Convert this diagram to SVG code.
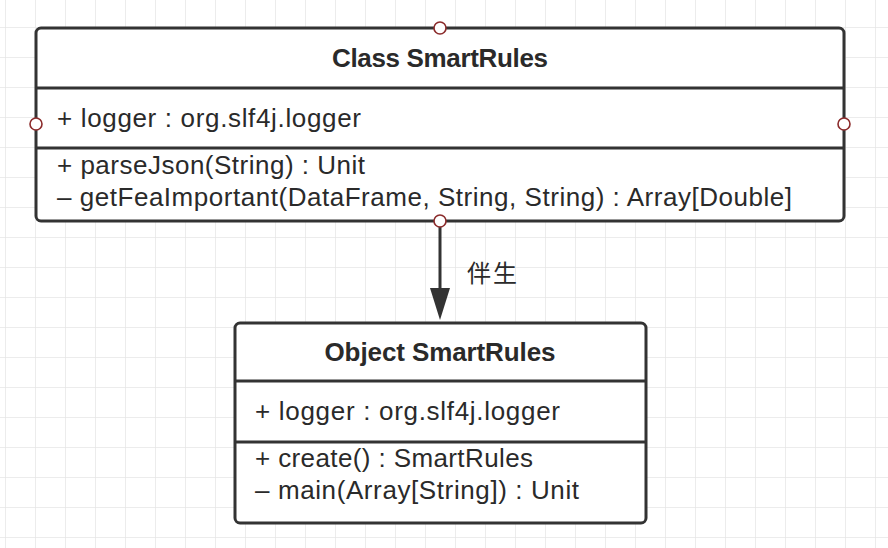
<svg xmlns="http://www.w3.org/2000/svg" width="888" height="548" viewBox="0 0 888 548">
<defs>
<pattern id="grid" x="5" y="27" width="30" height="30" patternUnits="userSpaceOnUse">
<path d="M0 0H30M0 0V30" fill="none" stroke="#e6e6e6" stroke-width="1.5"/>
</pattern>
</defs>
<style>
.box{fill:#fff;stroke:#333;stroke-width:3}
.div{stroke:#333;stroke-width:3}
.port{fill:#fff;stroke:#8b2b2b;stroke-width:1.6}
.t{font-family:"Liberation Sans",Arial,sans-serif;font-size:26px;fill:#2a2a2a}
.h{font-weight:bold;text-anchor:middle}
.cjk{font-family:"Noto Sans CJK SC",sans-serif;font-size:24px;fill:#2a2a2a}
</style>
<rect width="888" height="548" fill="#fff"/>
<rect width="888" height="548" fill="url(#grid)"/>
<g id="connectors">
<line x1="440" y1="222" x2="440" y2="290" stroke="#333" stroke-width="3"/>
<path d="M430 288L450 288L440 320Z" fill="#333"/>
<text class="cjk" x="467" y="282" textLength="50">伴生</text>
</g>
<g id="class-smartrules">
<rect class="box" x="36" y="28" width="808" height="193" rx="5"/>
<line class="div" x1="36" y1="88" x2="844" y2="88"/>
<line class="div" x1="36" y1="148" x2="844" y2="148"/>
<text class="t h" x="440" y="67" textLength="216">Class SmartRules</text>
<text class="t" x="57" y="127" textLength="304">+ logger : org.slf4j.logger</text>
<text class="t" x="57" y="174" textLength="308">+ parseJson(String) : Unit</text>
<text class="t" x="57" y="206" textLength="735">– getFeaImportant(DataFrame, String, String) : Array[Double]</text>
<circle class="port" cx="440" cy="28" r="6"/>
<circle class="port" cx="36" cy="124" r="6"/>
<circle class="port" cx="844" cy="124" r="6"/>
<circle class="port" cx="440" cy="221" r="6"/>
</g>
<g id="object-smartrules">
<rect class="box" x="235" y="323" width="411" height="200" rx="5"/>
<line class="div" x1="235" y1="381" x2="646" y2="381"/>
<line class="div" x1="235" y1="442" x2="646" y2="442"/>
<text class="t h" x="440" y="361" textLength="231">Object SmartRules</text>
<text class="t" x="255" y="420" textLength="305">+ logger : org.slf4j.logger</text>
<text class="t" x="255" y="467" textLength="278">+ create() : SmartRules</text>
<text class="t" x="255" y="499" textLength="324">– main(Array[String]) : Unit</text>
</g>
</svg>
